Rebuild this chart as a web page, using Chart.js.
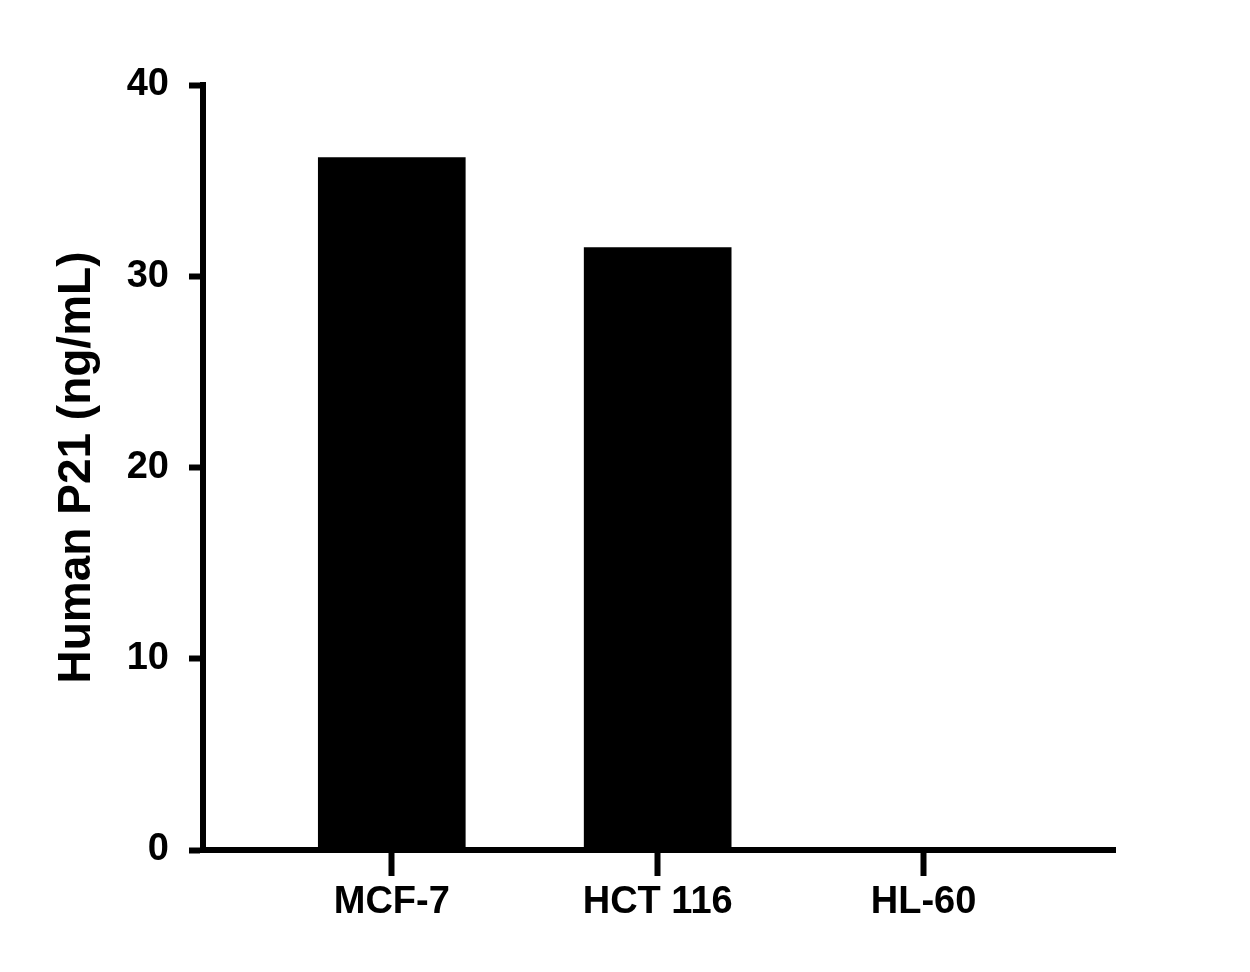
<!DOCTYPE html>
<html><head><script src="https://cdn.jsdelivr.net/npm/chart.js@4"></script>
<style>body{margin:0;background:#fff}</style></head>
<body><canvas id="c" width="1250" height="972"></canvas>
<script>
const categories = ["MCF-7", "HCT 116", "HL-60"];
const values = [36.2, 31.5, 0];
const yTicks = [0, 10, 20, 30, 40];
const font = {family: "'Liberation Sans', Arial, sans-serif", weight: "bold", size: 38};
new Chart(document.getElementById('c'), {
  type: 'bar',
  data: { datasets: [{ data: values.map((v, i) => ({x: i, y: v})), backgroundColor: '#000', barThickness: 147 }] },
  options: {
    responsive: false, animation: false,
    layout: { padding: { left: 0, top: 85, right: 135, bottom: 0 } },
    plugins: { legend: { display: false }, tooltip: { enabled: false } },
    scales: {
      x: { type: 'linear', min: -0.71, max: 2.72, offset: false,
        afterBuildTicks: s => { s.ticks = categories.map((c, i) => ({value: i})); },
        afterFit: s => { s.height = 122; },
        ticks: { callback: (v) => categories[v] ?? '', color: '#000', font: font, padding: 4, maxRotation: 0, autoSkip: false },
        grid: { offset: false, drawOnChartArea: false, drawTicks: true, tickLength: 26, tickWidth: 6, color: '#000' },
        border: { color: '#000', width: 6 } },
      y: { min: 0, max: 40,
        afterBuildTicks: s => { s.ticks = yTicks.map(v => ({value: v})); },
        afterFit: s => { s.width = 203; },
        ticks: { color: '#000', font: font, padding: 20 },
        title: { display: true, text: 'Human P21 (ng/mL)', color: '#000', font: {family: font.family, weight: 'bold', size: 46}, padding: {top: 50, bottom: 0} },
        grid: { drawOnChartArea: false, drawTicks: true, tickLength: 14, tickWidth: 6, color: '#000' },
        border: { color: '#000', width: 6 } }
    }
  }
});
</script></body></html>
